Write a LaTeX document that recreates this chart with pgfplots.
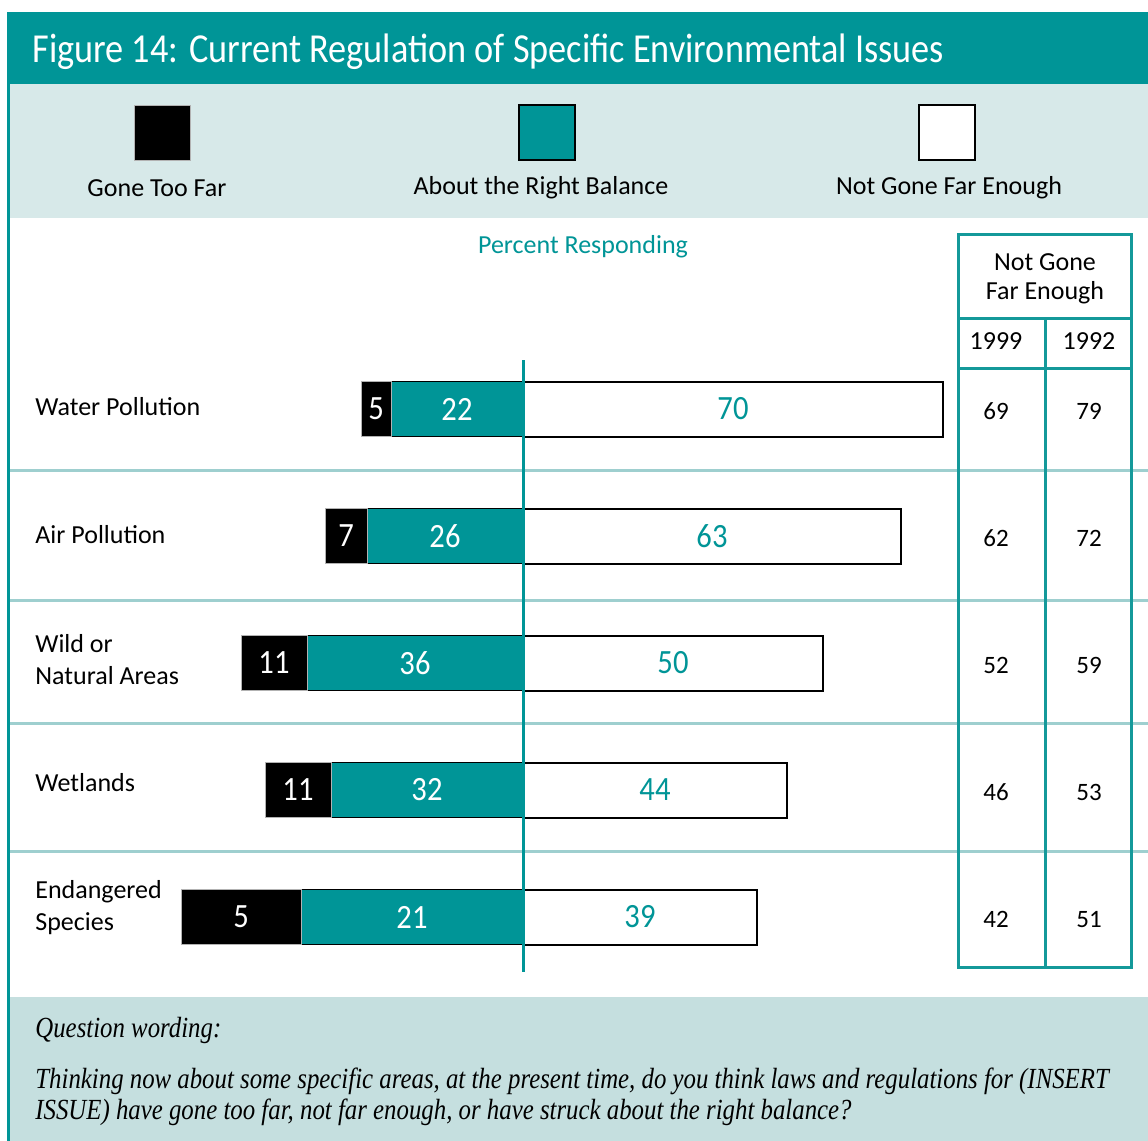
\documentclass[border=0pt]{standalone}
\usepackage{fontspec}
\setmainfont{Carlito}
\newfontfamily\titlefont[FakeStretch=0.88]{Carlito}
\newfontfamily\barfont[FakeStretch=0.9]{Carlito}
\newfontfamily\qfont[FakeStretch=0.85]{Liberation Serif}
\usepackage{pgfplots}
\usepackage{pgfplotstable}
\pgfplotsset{compat=1.18}
\definecolor{tealc}{HTML}{009597}
\definecolor{legbg}{HTML}{D7E9E9}
\definecolor{footbg}{HTML}{C5DFDF}
\definecolor{sepc}{HTML}{9ECFCF}
\definecolor{tabc}{HTML}{14999A}

% bar lengths as drawn (percent)
\pgfplotstableread{
row blk tl wh
0 5 22 70
1 7 26 63
2 11 36 50
3 11 32 44
4 20 37 39
}\bars
% label positions (segment centres, percent) and printed values
\pgfplotstableread{
row bx bl tx tlab wx wlab
0 -24.5 5 -11 22 35 70
1 -29.5 7 -13 26 31.5 63
2 -41.5 11 -18 36 25 50
3 -37.5 11 -16 32 22 44
4 -47 5 -18.5 21 19.5 39
}\labs
\pgfplotstableread{
row y99 y92
0 69 79
1 62 72
2 52 59
3 46 53
4 42 51
}\tabvals

\def\zero{87.1667}

\begin{document}
\begin{tikzpicture}
% ---------- backgrounds (pixel coordinates) ----------
\begin{scope}[x=0.5pt,y=-0.5pt]
\path[use as bounding box] (0,0) rectangle (1148,1141);
\fill[white] (0,0) rectangle (1148,1141);
\fill[tealc] (8,12) rectangle (1148,84);
\fill[legbg] (8,84) rectangle (1148,218);
\fill[footbg] (8,997) rectangle (1148,1141);
\draw[tealc, line width=1.5pt] (8.5,12) -- (8.5,1141);
\foreach \yy in {470,600,723,851}{
  \draw[sepc, line width=1.5pt] (10,\yy) -- (1148,\yy);
}
\draw[tabc, line width=1.5pt] (958,234) rectangle (1131,967);
\draw[tabc, line width=1.5pt] (958,318) -- (1131,318);
\draw[tabc, line width=1.5pt] (958,368) -- (1131,368);
\draw[tabc, line width=1.5pt] (1045,318) -- (1045,967);
% title
\node[anchor=west, text=white, font=\titlefont\fontsize{20.6}{24}\selectfont, inner sep=0pt] at (32,52) {Figure 14: Current Regulation of Specific Environmental Issues};
% legend
\fill[black] (134,105) rectangle (190,160);
\draw[gray!60, line width=0.5pt] (134,105) rectangle (190,160);
\filldraw[fill=tealc, draw=black, line width=0.8pt] (519,105) rectangle (575,160);
\filldraw[fill=white, draw=black, line width=0.8pt] (919,105) rectangle (975,160);
\begin{scope}[every node/.style={font=\fontsize{13}{15}\selectfont, inner sep=0pt}]
\node at (157,188) {Gone Too Far};
\node at (541,188) {About the Right Balance};
\node at (949,188) {Not Gone Far Enough};
\node[text=tealc] at (583,247) {Percent Responding};
\node at (1045,262) {Not Gone};
\node at (1045,293) {Far Enough};
\node at (996,341) {1999};
\node at (1089,341) {1992};
\node[anchor=west] at (35,407) {Water Pollution};
\node[anchor=west] at (35,535) {Air Pollution};
\node[anchor=west] at (35,644) {Wild or};
\node[anchor=west] at (35,676) {Natural Areas};
\node[anchor=west] at (35,783) {Wetlands};
\node[anchor=west] at (35,892) {Endangered};
\node[anchor=west] at (35,924) {Species};
\end{scope}
\begin{scope}[every node/.style={anchor=west, inner sep=0pt, font=\qfont\itshape\fontsize{14.6}{17}\selectfont}]
\node at (35,1030) {Question wording:};
\node at (35,1081) {Thinking now about some specific areas, at the present time, do you think laws and regulations for (INSERT};
\node at (35,1112) {ISSUE) have gone too far, not far enough, or have struck about the right balance?};
\end{scope}
\end{scope}

% ---------- bars (x axis shifted so that 0 percent lies at \zero) ----------
\begin{axis}[at={(0pt,0pt)}, anchor=north west, scale only axis,
  width=574pt, height=570.5pt,
  xmin=0, xmax=191.3333, ymin=-3.22047, ymax=5.76378,
  y dir=reverse, hide axis, clip=false,
  xbar stacked, bar width=27.5pt]
\addplot[draw=none, fill=none] table[x expr=\zero-\thisrow{blk}-\thisrow{tl}, y=row]{\bars};
\addplot[fill=black, draw=gray!60, line width=0.5pt] table[x=blk, y=row]{\bars};
\addplot[fill=tealc, draw=black, line width=0.8pt] table[x=tl, y=row]{\bars};
\addplot[fill=white, draw=black, line width=1pt] table[x=wh, y=row]{\bars};
\end{axis}

\begin{scope}[x=0.5pt,y=-0.5pt]
\draw[tealc, line width=1.5pt] (523,360) -- (523,972);
\end{scope}

% ---------- value labels ----------
\begin{axis}[at={(0pt,0pt)}, anchor=north west, scale only axis,
  width=574pt, height=570.5pt,
  xmin=0, xmax=191.3333, ymin=-3.22047, ymax=5.76378,
  y dir=reverse, hide axis, clip=false,
  nodes near coords, point meta=explicit symbolic,
  every node near coord/.append style={anchor=center, inner sep=0pt}]
\addplot[draw=none, mark=none, nodes near coords style={text=white, font=\barfont\fontsize{17}{20}\selectfont}] table[x expr=\thisrow{bx}+\zero, y=row, meta=bl]{\labs};
\addplot[draw=none, mark=none, nodes near coords style={text=white, font=\barfont\fontsize{17}{20}\selectfont}] table[x expr=\thisrow{tx}+\zero, y=row, meta=tlab]{\labs};
\addplot[draw=none, mark=none, nodes near coords style={text=tealc, font=\barfont\fontsize{17}{20}\selectfont}] table[x expr=\thisrow{wx}+\zero, y=row, meta=wlab]{\labs};
\addplot[draw=none, mark=none, nodes near coords style={text=black, font=\fontsize{12.5}{15}\selectfont}] table[x expr=166, y expr=\thisrow{row}+0.02, meta=y99]{\tabvals};
\addplot[draw=none, mark=none, nodes near coords style={text=black, font=\fontsize{12.5}{15}\selectfont}] table[x expr=181.5, y expr=\thisrow{row}+0.02, meta=y92]{\tabvals};
\end{axis}
\end{tikzpicture}
\end{document}
